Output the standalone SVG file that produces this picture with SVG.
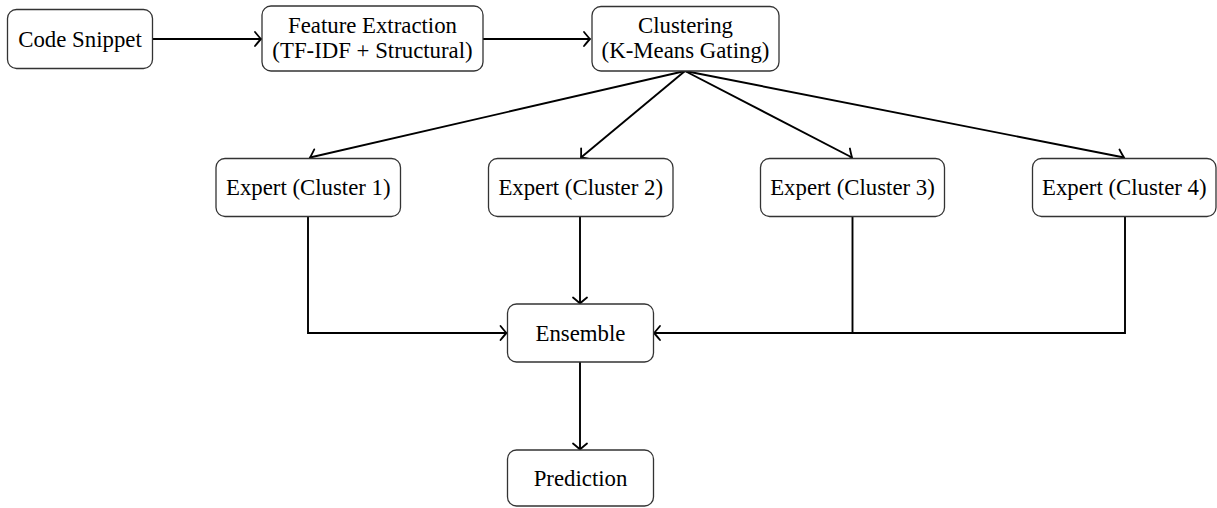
<svg xmlns="http://www.w3.org/2000/svg" width="1217" height="508" viewBox="0 0 1217 508">
<style>
.box{fill:#fff;stroke:#333;stroke-width:1.3}
.t{font-family:"Liberation Serif","Times New Roman",serif;font-size:22.8px;fill:#000;text-anchor:middle}
.c{fill:none;stroke:#000;stroke-width:1.9}
</style>
<defs>
<marker id="ah" markerUnits="userSpaceOnUse" markerWidth="18" markerHeight="18" viewBox="-10 -9 13 18" refX="0" refY="0" orient="auto">
<path d="M-6,-7 Q-1.5,-1.5 0,0 Q-1.5,1.5 -6,7" fill="none" stroke="#000" stroke-width="1.8" stroke-linecap="round"/>
</marker>
</defs>
<g id="connectors">
<path class="c" d="M152,39 H261" marker-end="url(#ah)"/>
<path class="c" d="M483,39 H590" marker-end="url(#ah)"/>
<path class="c" d="M685,71 L310,157.5" marker-end="url(#ah)"/>
<path class="c" d="M685,71 L581,157.5" marker-end="url(#ah)"/>
<path class="c" d="M685,71 L852,157.5" marker-end="url(#ah)"/>
<path class="c" d="M685,71 L1124,157.5" marker-end="url(#ah)"/>
<path class="c" d="M308,216 V333 H506.5" marker-end="url(#ah)"/>
<path class="c" d="M580,216 V303.5" marker-end="url(#ah)"/>
<path class="c" d="M852.5,216 V333 H654" marker-end="url(#ah)"/>
<path class="c" d="M1125,216 V333 H852.5"/>
<path class="c" d="M580,362 V449.5" marker-end="url(#ah)"/>
</g>
<g id="code-snippet">
<rect class="box" x="7.5" y="9.5" width="145" height="59" rx="9"/>
<text class="t" x="80" y="46.5">Code Snippet</text>
</g>
<g id="feature-extraction">
<rect class="box" x="262" y="6" width="221" height="65" rx="9"/>
<text class="t" x="372.5" y="33">Feature Extraction</text>
<text class="t" x="372.5" y="58">(TF-IDF + Structural)</text>
</g>
<g id="clustering">
<rect class="box" x="592" y="6.5" width="187" height="64.5" rx="9"/>
<text class="t" x="685.5" y="33">Clustering</text>
<text class="t" x="685.5" y="58">(K-Means Gating)</text>
</g>
<g id="expert-1">
<rect class="box" x="216" y="158.5" width="184.5" height="58" rx="9"/>
<text class="t" x="308.3" y="195">Expert (Cluster 1)</text>
</g>
<g id="expert-2">
<rect class="box" x="488.5" y="158.5" width="184.5" height="58" rx="9"/>
<text class="t" x="580.7" y="195">Expert (Cluster 2)</text>
</g>
<g id="expert-3">
<rect class="box" x="760.5" y="158.5" width="184" height="58" rx="9"/>
<text class="t" x="852.5" y="195">Expert (Cluster 3)</text>
</g>
<g id="expert-4">
<rect class="box" x="1032.5" y="158.5" width="183.5" height="58" rx="9"/>
<text class="t" x="1124.3" y="195">Expert (Cluster 4)</text>
</g>
<g id="ensemble">
<rect class="box" x="507.5" y="304" width="146" height="58" rx="9"/>
<text class="t" x="580.5" y="340.5">Ensemble</text>
</g>
<g id="prediction">
<rect class="box" x="507.5" y="450" width="146" height="56" rx="9"/>
<text class="t" x="580.5" y="486">Prediction</text>
</g>
</svg>
